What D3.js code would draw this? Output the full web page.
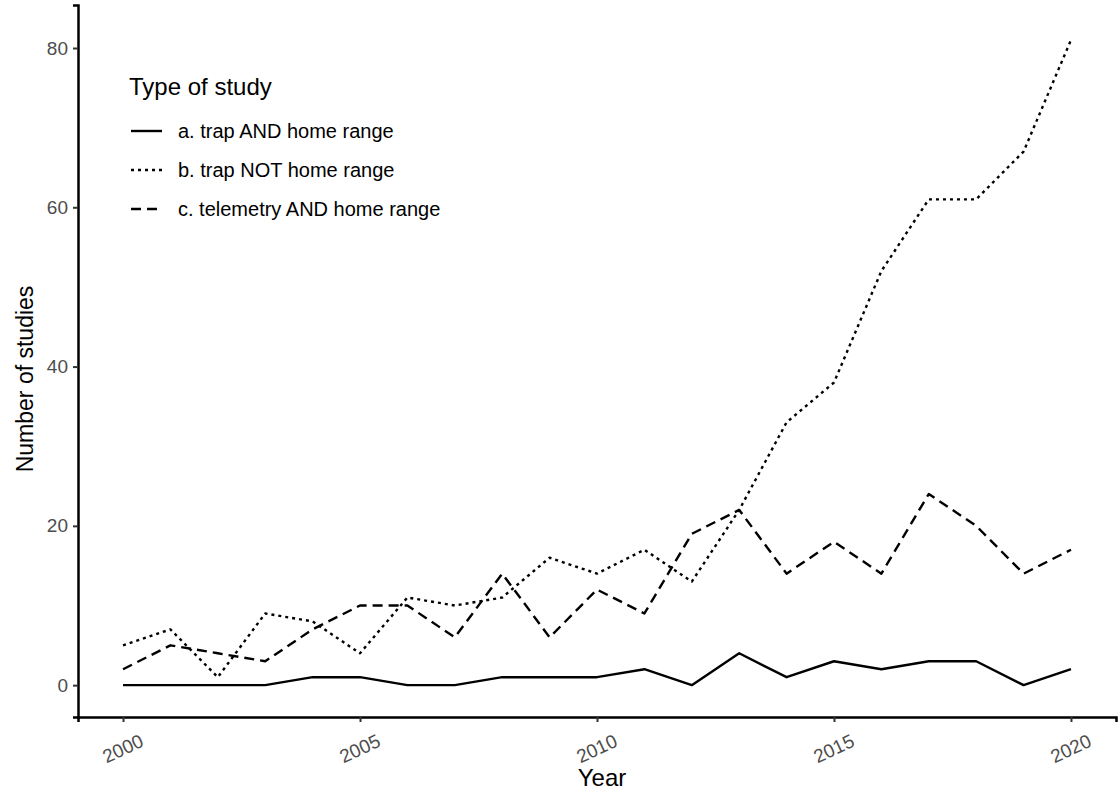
<!DOCTYPE html>
<html>
<head>
<meta charset="utf-8">
<script src="https://cdn.jsdelivr.net/npm/d3@7"></script>
<style>
  body { margin: 0; background: #fff; }
  text { font-family: "Liberation Sans", Arial, sans-serif; }
</style>
</head>
<body>
<div id="chart"></div>
<script>
var vWidth = 1118;
var vHeight = 795;

// data
var years = d3.range(2000, 2021);
var trapAndHome = [0, 0, 0, 0, 1, 1, 0, 0, 1, 1, 1, 2, 0, 4, 1, 3, 2, 3, 3, 0, 2];
var trapNotHome = [5, 7, 1, 9, 8, 4, 11, 10, 11, 16, 14, 17, 13, 22, 33, 38, 52, 61, 61, 67, 81];
var telemetryHome = [2, 5, 4, 3, 7, 10, 10, 6, 14, 6, 12, 9, 19, 22, 14, 18, 14, 24, 20, 14, 17];
var seriesNames = ["a. trap AND home range", "b. trap NOT home range", "c. telemetry AND home range"];
var yTicks = [0, 20, 40, 60, 80];
var xTicks = [2000, 2005, 2010, 2015, 2020];

var dashes = ["none", "3,4", "10,6"];
var series = [trapAndHome, trapNotHome, telemetryHome];

var svg = d3.select("#chart")
    .append("svg")
    .attr("width", vWidth)
    .attr("height", vHeight);

// plot box (note: don't call these top/left, window.top is read only)
var mLeft = 78, mRight = 1116, mTop = 5, mBottom = 717;

var x = d3.scaleLinear().domain([1999.05, 2020.95]).range([mLeft, mRight]);
var y = d3.scaleLinear().domain([-4.0, 85.4]).range([mBottom, mTop]);

// axes
var xAxis = svg.append("g")
    .attr("transform", "translate(0," + mBottom + ")")
    .call(d3.axisBottom(x).tickValues(xTicks).tickFormat(d3.format("d")).tickSizeOuter(0).tickSize(5));
xAxis.select(".domain").attr("stroke", "#000").attr("stroke-width", 2.5);
xAxis.selectAll(".tick line").attr("stroke", "#333").attr("stroke-width", 2);
xAxis.selectAll(".tick text")
    .attr("fill", "#4d4d4d")
    .attr("font-size", 19)
    .attr("text-anchor", "middle")
    .attr("dy", null)
    .attr("y", 0)
    .attr("transform", "translate(0,33) rotate(-25)")
    .attr("dominant-baseline", "middle");

var yAxis = svg.append("g")
    .attr("transform", "translate(" + mLeft + ",0)")
    .call(d3.axisLeft(y).tickValues(yTicks).tickSizeOuter(0).tickSize(5));
yAxis.select(".domain").attr("stroke", "#000").attr("stroke-width", 2.5);
yAxis.selectAll(".tick line").attr("stroke", "#333").attr("stroke-width", 2);
yAxis.selectAll(".tick text")
    .attr("fill", "#4d4d4d")
    .attr("font-size", 19)
    .attr("x", -10);

// axis titles
svg.append("text")
    .attr("x", 602)
    .attr("y", 786)
    .attr("text-anchor", "middle")
    .attr("font-size", 24)
    .attr("fill", "#000")
    .text("Year");

svg.append("text")
    .attr("transform", "translate(33,379) rotate(-90)")
    .attr("text-anchor", "middle")
    .attr("font-size", 23)
    .attr("fill", "#000")
    .text("Number of studies");

// lines
var line = d3.line()
    .x(function (d, i) { return x(years[i]); })
    .y(function (d) { return y(d); });

svg.selectAll(".series")
    .data(series)
    .enter()
    .append("path")
    .attr("class", "series")
    .attr("d", line)
    .attr("fill", "none")
    .attr("stroke", "#000")
    .attr("stroke-width", 2.4)
    .attr("stroke-linejoin", "round")
    .attr("stroke-dasharray", function (d, i) { return dashes[i]; });

// legend
var legend = svg.append("g").attr("transform", "translate(129,0)");
legend.append("text")
    .attr("x", 0)
    .attr("y", 95)
    .attr("font-size", 24)
    .attr("fill", "#000")
    .text("Type of study");

var items = legend.selectAll(".item")
    .data(seriesNames)
    .enter()
    .append("g")
    .attr("transform", function (d, i) { return "translate(0," + (131 + i * 39) + ")"; });

items.append("line")
    .attr("x1", 2).attr("x2", 33)
    .attr("y1", 0).attr("y2", 0)
    .attr("stroke", "#000")
    .attr("stroke-width", 2.4)
    .attr("stroke-dasharray", function (d, i) { return dashes[i]; });

items.append("text")
    .attr("x", 49)
    .attr("y", 7)
    .attr("font-size", 20)
    .attr("fill", "#000")
    .text(function (d) { return d; });
</script>
</body>
</html>
